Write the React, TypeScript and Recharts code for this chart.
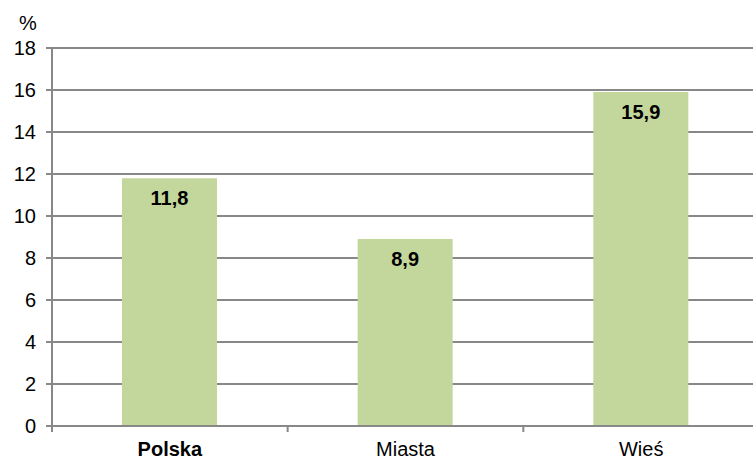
import React from "react";
import { BarChart, Bar, XAxis, YAxis, CartesianGrid, LabelList } from "recharts";

const categories = ["Polska", "Miasta", "Wieś"];
const values = [11.8, 8.9, 15.9];
const yTicks = [0, 2, 4, 6, 8, 10, 12, 14, 16, 18];

const data = categories.map((name, i) => ({ name, value: values[i] }));

const W = 753;
const CW = 759;
const H = 459;
const LEFT = 52;
const BAND = (CW - LEFT) / categories.length;
const FONT = "Liberation Sans, Arial, sans-serif";

const XTick = (props: any) => {
  const { x, y, payload, index } = props;
  const bold = payload.value === "Polska";
  return (
    <g>
      <line x1={x + BAND / 2} x2={x + BAND / 2} y1={y - 8} y2={y - 2} stroke="#888" strokeWidth={2} />
      {index === 0 && (
        <line x1={x - BAND / 2} x2={x - BAND / 2} y1={y - 8} y2={y - 2} stroke="#888" strokeWidth={2} />
      )}
      <text
        x={x}
        y={y + 22}
        textAnchor="middle"
        fontFamily={FONT}
        fontSize={20}
        fontWeight={bold ? "bold" : "normal"}
        fill="#000"
      >
        {payload.value}
      </text>
    </g>
  );
};

export default function App() {
  return (
    <div style={{ position: "absolute", left: 0, top: 0, width: W, height: H, overflow: "hidden", background: "#fff" }}>
      <BarChart
        width={CW}
        height={H}
        data={data}
        margin={{ top: 48, right: 0, bottom: 0, left: 0 }}
        barSize={95}
      >
        <CartesianGrid vertical={false} stroke="#888" strokeWidth={2} />
        <XAxis
          dataKey="name"
          height={33}
          axisLine={{ stroke: "#888", strokeWidth: 2 }}
          tickLine={false}
          tick={<XTick />}
          interval={0}
        />
        <YAxis
          width={LEFT}
          domain={[0, 18]}
          ticks={yTicks}
          interval={0}
          axisLine={{ stroke: "#888", strokeWidth: 2 }}
          tickLine={{ stroke: "#888", strokeWidth: 2 }}
          tickSize={6}
          tickMargin={10}
          tick={{ fill: "#000", fontSize: 20, fontFamily: FONT }}
          label={{
            value: "%",
            position: "top",
            offset: 18,
            dx: 2,
            style: { fill: "#000", fontSize: 20, fontFamily: FONT },
          }}
        />
        <Bar dataKey="value" fill="#c3d69b" isAnimationActive={false}>
          <LabelList
            dataKey="value"
            position="insideTop"
            offset={13}
            formatter={(v: any) => String(v).replace(".", ",")}
            style={{ fill: "#000", fontSize: 20, fontWeight: "bold", fontFamily: FONT }}
          />
        </Bar>
      </BarChart>
    </div>
  );
}
